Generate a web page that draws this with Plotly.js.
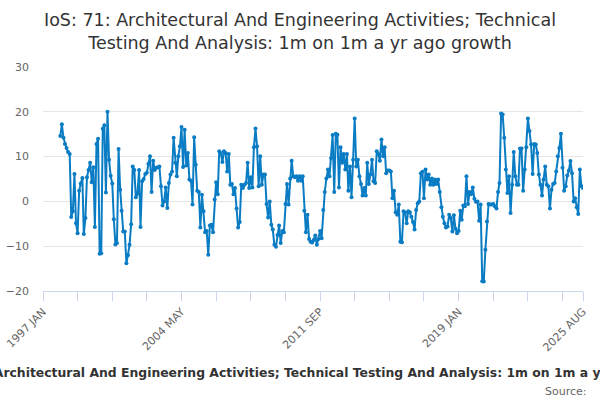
<!DOCTYPE html>
<html>
<head>
<meta charset="utf-8">
<script src="https://cdn.plot.ly/plotly-3.0.1.min.js"></script>
<style>
  html, body { margin: 0; padding: 0; background: #fff; }
  #chart { width: 600px; height: 400px; }
</style>
</head>
<body>
<div id="chart"></div>
<script>
// monthly series, first value is Dec 1997
const firstMonth = [1997, 12];

// Dec 1997 - Jul 2004
const growthA = [14.6, 17.2, 14.2, 12.8, 11.9, 11.0, 10.6, -3.5, -2.2, 6.1,
  -4.9, -7.1, 2.4, 4.0, 5.2, -7.3, -3.7, 5.4, 7.0, 8.6,
  4.3, 7.6, -5.7, 12.8, 14.0, -11.7, -11.6, 16.2, 17.0, 2.0,
  20.0, 9.3, 5.7, 4.0, -4.0, -9.6, -9.3, 11.7, 2.6, -2.1,
  -6.7, -6.7, -13.8, -12.0, -9.7, -5.1, 7.8, 7.0, 0.9, 1.7,
  7.0, -5.7, 4.5, 5.0, 6.1, 6.4, 8.4, 10.1, 2.1, 9.1,
  7.0, 7.5, 7.6, 7.8, 3.4, -0.9, 0.0, 3.1, -1.5, 4.1,
  6.0, 6.7, 14.2, 8.6, 5.6, 10.1, 12.3, 16.6, 7.7, 16.0];

// Aug 2004 - Feb 2011
const growthB = [8.0, 10.8, 4.9, 4.6, -0.7, 14.3, 8.2, 2.4, 2.1, -5.8,
  1.5, -2.2, -6.9, -6.6, -11.9, -5.4, -5.2, -6.9, 0.4, 4.3,
  1.6, 11.2, 10.8, 8.8, 11.2, 10.8, 6.7, 10.6, 3.7, 3.9,
  1.6, 3.0, -1.6, -5.8, -4.6, 3.7, 3.0, 3.7, 4.1, 8.6,
  3.0, 5.4, 3.1, 12.1, 16.3, 12.3, 3.4, 10.1, 3.7, 6.0,
  6.0, -0.6, -3.6, 0.0, -5.2, -6.3, -9.7, -10.1, -7.5, -5.4,
  -9.3, -6.6, -6.9, -0.6, 3.9, -0.7, 5.1, 9.1, 5.6, 5.4,
  5.6, 4.6, 5.6, 4.6, 5.6, -2.1, -6.9, -3.0, -8.4];

// Mar 2011 - Sep 2017
const growthC = [-9.0, -9.2, -8.6, -7.6, -9.7, -8.4, -6.6, -8.2, -1.9, 2.1,
  5.1, 7.1, 5.6, 9.7, 14.8, 2.1, 15.1, 14.9, 3.1, 12.1,
  8.6, 10.6, 7.1, 10.6, 2.4, 7.8, 0.9, 9.3, 18.5, 7.8,
  9.3, 5.6, 3.9, 1.3, 3.0, 1.3, 8.6, 3.9, 6.0, 9.3,
  4.5, 4.1, 11.2, 10.6, 9.1, 13.8, 10.1, 12.1, 6.3, 6.9,
  6.9, 6.7, 0.7, 2.4, -2.4, -3.0, -0.7, -9.0, -9.1, -2.2,
  -2.5, -4.9, -2.2, -2.4, -3.4, -4.6, -6.3, -1.9, -0.4, 0.0,
  6.3, 6.6, 0.7, 7.1, 4.9, 6.0, 3.7, 5.1, 3.7];

// Oct 2017 - Aug 2025
const growthD = [4.9, 3.9, 4.9, 2.1, -1.3, -3.4, -4.9, -5.8, -5.6, -3.0,
  -3.7, -6.7, -3.1, -6.1, -7.1, -6.6, -2.1, -4.1, -0.9, -1.1,
  5.6, -0.6, 2.1, 1.6, 3.1, 0.6, -0.1, 0.0, -4.3, -0.7,
  -17.8, -17.9, -10.8, -4.5, -0.6, -0.7, -0.7, -0.6, -1.1, -1.6,
  2.1, 4.1, 19.6, 19.4, 14.2, 7.1, 1.9, 5.6, -2.6, 3.7,
  11.0, 5.6, 3.7, 3.7, 11.8, 11.8, 2.4, 7.1, 12.1, 18.5,
  15.7, 12.7, 6.1, 12.8, 12.7, 10.8, 6.0, 3.7, 1.3, 4.9,
  7.8, 3.7, 3.4, -1.6, 2.6, 3.9, 4.1, 6.7, 10.1, 11.9,
  15.1, 7.5, 2.4, 3.4, 5.8, 6.9, 9.0, 6.3, 0.0, 0.7,
  -1.3, -2.8, 7.1, 3.4, 3.0];

const tickMonths = ['1997-01', '1998-11', '2000-09', '2002-07', '2004-05', '2006-03',
  '2008-01', '2009-11', '2011-09', '2013-07', '2015-05', '2017-03', '2019-01',
  '2020-11', '2022-09', '2024-07', '2025-08'];
const tickLabels = ['1997 JAN', '', '', '', '2004 MAY', '', '', '', '2011 SEP',
  '', '', '', '2019 JAN', '', '', '', '2025 AUG'];

const seriesName = 'IoS: 71: Architectural And Engineering Activities; Technical Testing And Analysis: 1m on 1m a yr ago growth';

const values = growthA.concat(growthB, growthC, growthD);
const months = [];
let yr = firstMonth[0], mo = firstMonth[1];
for (let i = 0; i < values.length; i++) {
    months.push(yr + '-' + String(mo).padStart(2, '0') + '-01');
    mo++;
    if (mo > 12) { mo = 1; yr++; }
}

const lineColor = '#0a7cc4';

Plotly.newPlot('chart', [
    {
        x: months,
        y: values,
        type: 'scatter',
        mode: 'lines+markers',
        line: { color: lineColor, width: 2 },
        marker: { color: lineColor, size: 4 },
        hoverinfo: 'skip'
    }
], {
    width: 600,
    height: 400,
    font: { family: 'DejaVu Sans, sans-serif', color: '#666666', size: 11 },
    title: {
        text: 'IoS: 71: Architectural And Engineering Activities; Technical<br>Testing And Analysis: 1m on 1m a yr ago growth',
        font: { family: 'DejaVu Sans, sans-serif', size: 17.5, color: '#333333' },
        x: 0.5, xanchor: 'center',
        y: 0.935, yanchor: 'top', yref: 'container'
    },
    xaxis: {
        type: 'date',
        range: ['1997-01-01', '2025-08-01'],
        tickvals: tickMonths.map(m => m + '-01'),
        ticktext: tickLabels,
        tickangle: -45,
        ticks: 'outside',
        ticklen: 9,
        tickcolor: '#ccd6eb',
        showline: true,
        linecolor: '#ccd6eb',
        linewidth: 1,
        showgrid: false,
        zeroline: false,
        tickfont: { size: 11, color: '#666666' }
    },
    yaxis: {
        range: [-20, 30],
        tickvals: [-20, -10, 0, 10, 20, 30],
        showgrid: true,
        gridcolor: '#e6e6e6',
        zeroline: false,
        showline: false,
        ticks: '',
        ticklabelstandoff: 13,
        tickfont: { size: 11, color: '#666666' }
    },
    annotations: [
        {
            text: '<b>' + seriesName + '</b>',
            xref: 'paper', yref: 'paper',
            x: 0.5, xanchor: 'center',
            y: -0.366, yanchor: 'middle',
            showarrow: false,
            font: { size: 12.4, color: '#333333' }
        },
        {
            text: 'Source:',
            xref: 'paper', yref: 'paper',
            x: 1.012, xanchor: 'right',
            y: -0.447, yanchor: 'middle',
            showarrow: false,
            font: { size: 11, color: '#666666' }
        }
    ],
    showlegend: false,
    plot_bgcolor: '#ffffff',
    paper_bgcolor: '#ffffff',
    margin: { l: 43, r: 17, t: 67, b: 109 },
    hovermode: false
}, { displayModeBar: false, staticPlot: true });
</script>
</body>
</html>
